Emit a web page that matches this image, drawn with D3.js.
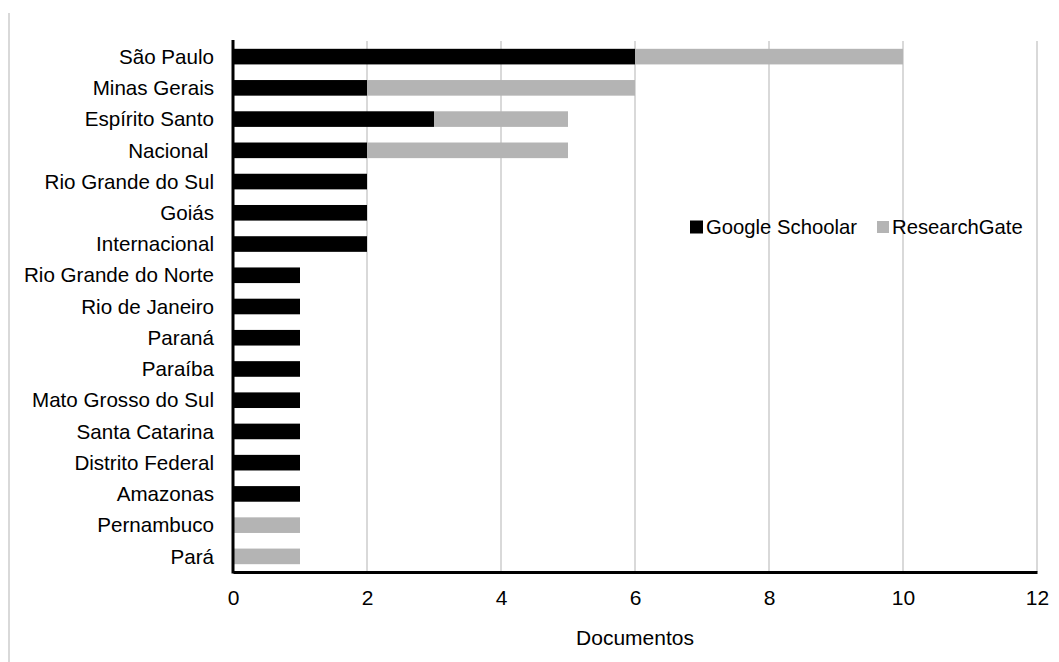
<!DOCTYPE html>
<html>
<head>
<meta charset="utf-8">
<script src="https://cdn.jsdelivr.net/npm/d3@7"></script>
<style>
  body { margin: 0; background: #fff; }
  text { font-family: "Liberation Sans", Arial, sans-serif; fill: #000; }
</style>
</head>
<body>
<div id="chart"></div>
<script>
// Dades
const categories = ["São Paulo", "Minas Gerais", "Espírito Santo", "Nacional ", "Rio Grande do Sul",
  "Goiás", "Internacional", "Rio Grande do Norte", "Rio de Janeiro", "Paraná", "Paraíba",
  "Mato Grosso do Sul", "Santa Catarina", "Distrito Federal", "Amazonas", "Pernambuco", "Pará"];
const googleScholar = [6, 2, 3, 2, 2, 2, 2, 1, 1, 1, 1, 1, 1, 1, 1, 0, 0];
const researchGate = [4, 4, 2, 3, 0, 0, 0, 0, 0, 0, 0, 0, 0, 0, 0, 1, 1];
const seriesNames = ["Google Schoolar", "ResearchGate"];
const seriesColors = ["#000000", "#b4b4b4"];
const xTicks = [0, 2, 4, 6, 8, 10, 12];

// Dimensions
const width = 1059;
const height = 662;
const margin = { top: 41, right: 22, bottom: 90, left: 233 };

const svg = d3.select("#chart")
  .append("svg")
  .attr("width", width)
  .attr("height", height);

// marc esquerre
svg.append("line")
  .attr("x1", 9).attr("x2", 9)
  .attr("y1", 13).attr("y2", height)
  .attr("stroke", "#d9d9d9")
  .attr("stroke-width", 2);

// Escales
const xScale = d3.scaleLinear()
  .domain([0, 12])
  .range([margin.left, width - margin.right]);

const yScale = d3.scaleBand()
  .domain(categories)
  .range([margin.top, height - margin.bottom])
  .paddingInner(0.5)
  .paddingOuter(0.25);

// graella
svg.append("g")
  .selectAll("line")
  .data(xTicks.filter(d => d > 0))
  .enter()
  .append("line")
  .attr("x1", d => xScale(d))
  .attr("x2", d => xScale(d))
  .attr("y1", margin.top)
  .attr("y2", height - margin.bottom)
  .attr("stroke", "#d9d9d9")
  .attr("stroke-width", 2);

// pila
const rows = categories.map((c, i) => ({ cat: c, gs: googleScholar[i], rg: researchGate[i] }));
const stacked = d3.stack().keys(["gs", "rg"])(rows);

svg.append("g")
  .selectAll("g")
  .data(stacked)
  .enter()
  .append("g")
  .attr("fill", (d, i) => seriesColors[i])
  .selectAll("rect")
  .data(d => d)
  .enter()
  .append("rect")
  .attr("x", d => xScale(d[0]))
  .attr("y", d => yScale(d.data.cat))
  .attr("width", d => xScale(d[1]) - xScale(d[0]))
  .attr("height", yScale.bandwidth());

// etiquetes categories
svg.append("g")
  .selectAll("text")
  .data(categories)
  .enter()
  .append("text")
  .attr("x", margin.left - 19)
  .attr("y", d => yScale(d) + yScale.bandwidth() / 2)
  .attr("dy", "0.35em")
  .attr("text-anchor", "end")
  .style("white-space", "pre")
  .style("font-size", "20.6px")
  .text(d => d);

// eix X
const xAxis = svg.append("g")
  .attr("transform", `translate(0,${height - margin.bottom})`)
  .call(d3.axisBottom(xScale).tickValues(xTicks).tickSize(0).tickPadding(18));
xAxis.select(".domain").attr("stroke", "#000").attr("stroke-width", 3);
xAxis.selectAll("text")
  .style("font-size", "21px")
  .style("font-family", "'Liberation Sans', Arial, sans-serif");

// eix Y
svg.append("line")
  .attr("x1", margin.left).attr("x2", margin.left)
  .attr("y1", margin.top - 1).attr("y2", height - margin.bottom + 1.5)
  .attr("stroke", "#000")
  .attr("stroke-width", 3);

// títol eix
svg.append("text")
  .attr("x", (xScale(0) + xScale(12)) / 2)
  .attr("y", 645)
  .attr("text-anchor", "middle")
  .style("font-size", "21px")
  .text("Documentos");

// llegenda
const legendPos = [{ x: 690, size: 13 }, { x: 877, size: 12 }];
const legend = svg.append("g")
  .selectAll("g")
  .data(seriesNames)
  .enter()
  .append("g");
legend.append("rect")
  .attr("x", (d, i) => legendPos[i].x)
  .attr("y", (d, i) => 227 - legendPos[i].size / 2)
  .attr("width", (d, i) => legendPos[i].size)
  .attr("height", (d, i) => legendPos[i].size)
  .attr("fill", (d, i) => seriesColors[i]);
legend.append("text")
  .attr("x", (d, i) => legendPos[i].x + legendPos[i].size + 3)
  .attr("y", 227)
  .attr("dy", "0.35em")
  .style("font-size", "20.3px")
  .text(d => d);
</script>
</body>
</html>
